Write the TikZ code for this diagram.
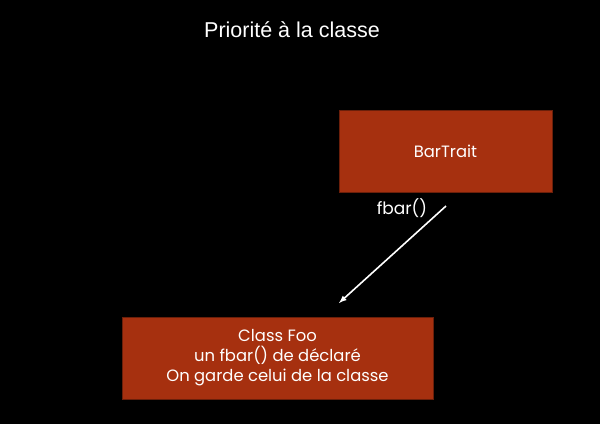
\documentclass[tikz,border=0pt]{standalone}
\usepackage{fontspec}
\setmainfont{Poppins}
\newfontfamily\titlefont{Liberation Sans}
\usetikzlibrary{arrows}
\usetikzlibrary{positioning}
\definecolor{mrust}{rgb}{0.65, 0.19, 0.06}
\definecolor{mrustdark}{rgb}{0.42, 0.12, 0.04}

\tikzset{
  classbox/.style={draw=mrustdark, line width=1pt, fill=mrust, text=white, align=center, font=\fontsize{16.4}{20}\selectfont},
  callarrow/.style={draw=white, line width=1.6pt, -latex}
}

\begin{document}
\begin{tikzpicture}[x=1pt, y=-1pt]
    \fill [black] (0, 0) rectangle (600, 424);
    \useasboundingbox (0, 0) rectangle (600, 424);

    \node [text=white, font=\titlefont\fontsize{21.5}{24}\selectfont] (title) at (292, 30) {Priorité à la classe};

    \node [classbox, minimum width=213pt, minimum height=82pt] (bartrait) at (445.5, 151) {BarTrait};
    \node [classbox, minimum width=311pt, minimum height=82pt] (foo) at (277.5, 358) {Class Foo\\un fbar() de déclaré\\On garde celui de la classe};

    \coordinate (start) at (446, 206);
    \coordinate (stop) at (339, 303);
    \draw [callarrow] (start) -- (stop); % appel de fbar
    \node [text=white, font=\fontsize{17}{20}\selectfont] (call) at (402, 208) {fbar()};
  \end{tikzpicture}
\end{document}
